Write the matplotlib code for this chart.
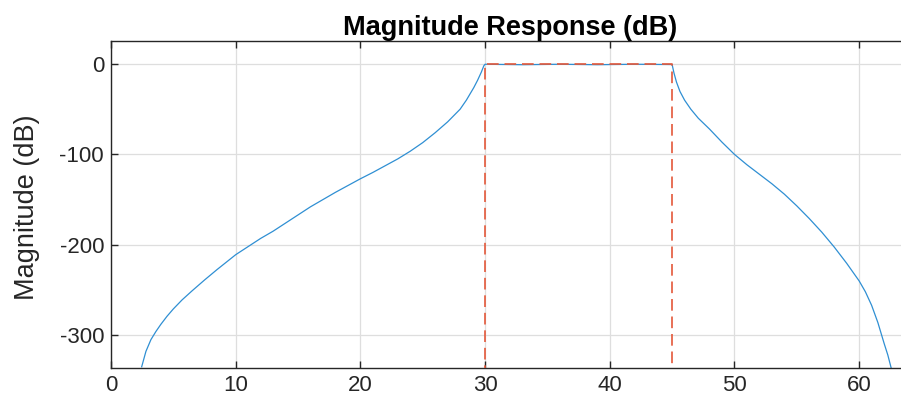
import matplotlib
matplotlib.use('Agg')
import matplotlib.pyplot as plt

plt.rcParams['font.family'] = ['Liberation Sans', 'DejaVu Sans']
plt.rcParams['axes.unicode_minus'] = False

# lower stopband and transition band (dB)
freq_lo = [2.46, 2.8, 3.2, 3.6, 4.0, 4.5, 5.0, 5.7, 6.5, 7.5, 8.5, 10.0, 11.0,
           12.0, 13.0, 14.0, 15.0, 16.0, 17.0, 18.0, 19.0, 20.0, 21.0, 22.0,
           23.0, 24.0, 25.0, 26.0, 27.0, 28.0, 28.5, 28.8, 29.1, 29.4, 29.7, 29.9]
mag_lo = [-335, -318, -305, -296, -288, -279, -271, -261, -251, -239, -227.5,
          -211, -202, -193, -185, -176, -167, -158, -150, -142, -134.5, -127,
          -120, -112.5, -105, -96.5, -87, -76, -64, -50, -40, -33, -26, -18,
          -9, -2]
# passband ripple
freq_pass = [30.0, 33.0, 36.0, 39.0, 42.0, 44.9]
mag_pass = [-0.3, -0.8, -0.3, -0.8, -0.3, -0.6]
# upper transition band and stopband
freq_hi = [45.0, 45.15, 45.35, 45.63, 46.0, 46.5, 47.1, 48.0, 49.0, 50.0,
           51.0, 52.0, 53.0, 54.0, 55.0, 56.0, 57.0, 58.0, 59.0, 60.0, 60.5,
           61.0, 61.5, 62.0, 62.3, 62.6]
mag_hi = [-0.5, -10, -20, -30.4, -40, -50, -60, -72, -86.5, -100,
          -111.5, -122, -132.5, -144, -157, -171, -186, -202.5, -220.5, -240,
          -252, -267, -286, -309, -322, -338]

# ideal bandpass mask
mask_f = [30, 30, 45, 45]
mask_db = [-400, 0, 0, -400]

fig = plt.figure(figsize=(9.01, 4.11), dpi=100)
ax = fig.add_axes([0.1232, 0.1054, 0.8857, 0.795])

f = freq_lo + freq_pass + freq_hi
m = mag_lo + mag_pass + mag_hi
ax.plot(f, m, color='#2f8fd3', lw=0.9, zorder=2)
ax.plot(mask_f, mask_db, color='#e4583a', lw=1.2, dashes=(7, 3.5), zorder=3)

ax.set_xlim(0, 64)
ax.set_ylim(-336, 25.5)
ax.set_xticks(range(0, 61, 10))
ax.set_yticks([0, -100, -200, -300])
ax.grid(True, color='#dedede', lw=0.9)
ax.set_axisbelow(True)

ax.tick_params(direction='in', length=5, width=1, colors='#262626',
               labelsize=16, labelcolor='#262626', top=True, right=True, pad=5)
for s in ax.spines.values():
    s.set_color('#262626')
    s.set_linewidth(1.0)

ax.set_title('Magnitude Response (dB)', fontsize=19.5, fontweight='bold', pad=4)
ax.set_ylabel('Magnitude (dB)', fontsize=19.5, color='#262626')
ax.yaxis.set_label_coords(-0.089, 0.49)

fig.savefig('out.png', dpi=100)
